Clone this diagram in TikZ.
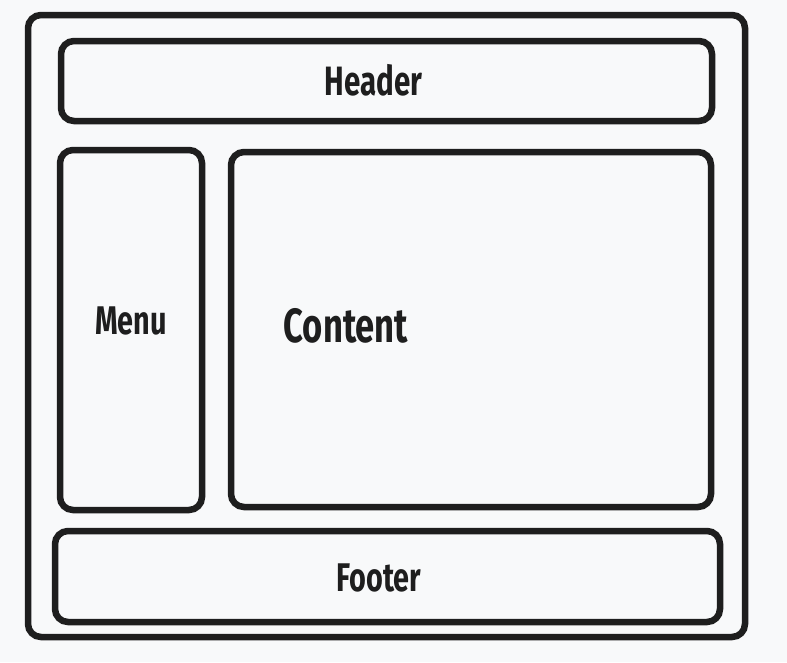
\documentclass[tikz,border=0pt]{standalone}
\usepackage{fontspec}
\usepackage{xcolor}
\usepackage{tikz}
\newfontfamily\sketchfont{Fira Sans}[FakeStretch=0.72]
\definecolor{ink}{HTML}{1E1E1E}
\definecolor{paper}{HTML}{F8F9FA}

\begin{document}
\begin{tikzpicture}[x=1pt, y=-1pt,
  panel/.style={draw=ink, line width=6.5pt, rounded corners=13pt},
  tag/.style={anchor=base, text=ink, inner sep=0pt}]
 \fill [paper] (0, 0) rectangle (787, 662);
 \useasboundingbox (0, 0) rectangle (787, 662);

 \draw [panel] (28, 15) rectangle (745, 637);
 \draw [panel] (61, 41) rectangle (712, 121);
 \draw [panel] (60, 150) rectangle (202, 510);
 \draw [panel] (231, 152) rectangle (711, 507);
 \draw [panel] (55, 531) rectangle (720, 622);

 \node [tag, font=\sketchfont\bfseries\fontsize{41}{41}\selectfont] (header) at (373.5, 95) {Header};
 \node [tag, font=\sketchfont\bfseries\fontsize{40}{40}\selectfont] (menu) at (131, 334) {Menu};
 \node [tag, font=\sketchfont\bfseries\fontsize{48}{48}\selectfont] (content) at (346, 342) {Content};
 \node [tag, font=\sketchfont\bfseries\fontsize{40}{40}\selectfont] (footer) at (379, 591) {Footer};
\end{tikzpicture}
\end{document}
